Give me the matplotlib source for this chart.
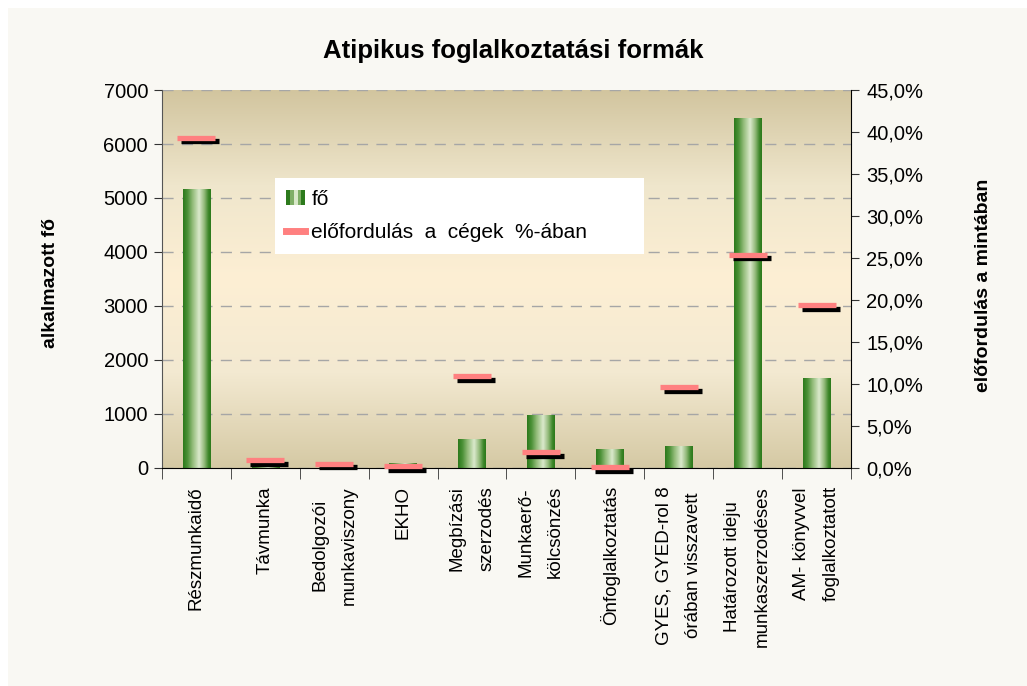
import matplotlib.pyplot as plt
import numpy as np
import matplotlib.transforms as mtransforms
from matplotlib.colors import LinearSegmentedColormap
from matplotlib.patches import Rectangle
from matplotlib.lines import Line2D
from matplotlib.legend_handler import HandlerTuple

plt.rcParams['font.family'] = ['Liberation Sans', 'DejaVu Sans']

# data
categories = ["Részmunkaidő", "Távmunka", "Bedolgozói\nmunkaviszony", "EKHO",
              "Megbízási\nszerzodés", "Munkaerő-\nkölcsönzés", "Önfoglalkoztatás",
              "GYES, GYED-rol 8\nórában visszavett", "Határozott ideju\nmunkaszerzodéses",
              "AM- könyvvel\nfoglalkoztatott"]
fo = [5150, 20, 15, 90, 520, 970, 340, 390, 6480, 1650]
elofordulas = [39.3, 0.9, 0.5, 0.2, 10.9, 1.9, 0.1, 9.6, 25.4, 19.4]

fig = plt.figure(figsize=(10.27, 6.86), dpi=100, facecolor='white')
fig.add_artist(Rectangle((8 / 1027, 0), 1, 1 - 8 / 686, transform=fig.transFigure,
                         facecolor='#f9f8f3', edgecolor='none', zorder=-10))

ax = fig.add_axes([0.1577, 0.3178, 0.6709, 0.551])
ax.set_facecolor('none')

# plot area gradient
bg_cmap = LinearSegmentedColormap.from_list('bg', ['#d2c59f', '#efe6cc', '#fdefd4', '#f3e9d1', '#d5c9a4'])
ax.imshow(np.linspace(0, 1, 256)[:, None], cmap=bg_cmap, extent=[0, 1, 0, 1],
          transform=ax.transAxes, aspect='auto', zorder=0)

# cylinder-like green bars
bar_cmap = LinearSegmentedColormap.from_list('bar', [
    (0.0, '#2c7a1c'), (0.15, '#4a9036'), (0.35, '#95bd7c'), (0.58, '#dbe9cc'),
    (0.78, '#8db674'), (0.92, '#3c8629'), (1.0, '#2c7a1c')])
x = np.arange(len(categories))
bars = ax.bar(x, fo, width=0.4, color='none', zorder=2)
for b in bars:
    ax.imshow(np.linspace(0, 1, 64)[None, :], cmap=bar_cmap,
              extent=[b.get_x(), b.get_x() + b.get_width(), 0, b.get_height()],
              aspect='auto', zorder=2, interpolation='bilinear')

ax.set_xlim(-0.5, len(categories) - 0.5)
ax.set_ylim(0, 7000)
ax.set_yticks(range(0, 7001, 1000))
ax.yaxis.grid(True, linestyle=(0, (8, 6)), color='#a6a6a6', lw=1)
ax.set_axisbelow(True)

ax.set_xticks(x)
ax.set_xticklabels(categories, rotation=90, ha='center', va='top',
                   multialignment='center', linespacing=1.95, fontsize=13.5)
ax.set_xticks(np.arange(-0.5, len(categories), 1), minor=True)
ax.tick_params(axis='x', which='major', length=0, pad=13)
ax.tick_params(axis='x', which='minor', length=8, color='#333333', direction='out')
ax.tick_params(axis='y', length=6, color='#333333', labelsize=14.5, pad=4)

for s in ['top', 'right']:
    ax.spines[s].set_visible(False)
ax.spines['left'].set_color('#555555')
ax.spines['bottom'].set_color('black')

ax.set_ylabel('alkalmazott fő', fontsize=14, fontweight='bold')
ax.yaxis.set_label_coords(-0.15, 0.49)

# secondary axis: share of companies
ax2 = ax.twinx()
ax2.set_ylim(0, 45)
ax2.set_yticks(range(0, 46, 5))
ax2.set_yticklabels([f"{v:.1f}%".replace('.', ',') for v in range(0, 46, 5)])
ax2.tick_params(axis='y', length=6, color='#333333', labelsize=14.5, pad=5)
for s in ['top', 'left', 'bottom']:
    ax2.spines[s].set_visible(False)
ax2.spines['right'].set_color('black')
ax2.set_ylabel('előfordulás a mintában', fontsize=14, fontweight='bold', rotation=90)
ax2.yaxis.set_label_coords(1.18, 0.483)

shadow = mtransforms.offset_copy(ax2.transData, fig=fig, x=4, y=-3.5, units='dots')
ax2.plot(x, elofordulas, ls='none', marker='_', ms=27.5, mew=3.8, color='black',
         transform=shadow, clip_on=False, zorder=3)
ax2.plot(x, elofordulas, ls='none', marker='_', ms=27.5, mew=3.8, color='#ff8080',
         clip_on=False, zorder=4)

# legend
stripes = tuple(Rectangle((0, 0), 1, 1, facecolor=c, edgecolor='none')
                for c in ['#2c7a1c', '#7fae66', '#d8e8c8', '#7fae66', '#2c7a1c'])
line = Line2D([], [], color='#ff8080', lw=5)
leg = ax2.legend([stripes, line], ['fő', 'előfordulás  a  cégek  %-ában'],
                 handler_map={tuple: HandlerTuple(ndivide=None, pad=0)},
                 loc='upper left', bbox_to_anchor=(0.164, 0.561, 0.5355, 0.206),
                 mode='expand', borderaxespad=0, fontsize=15, handlelength=0.9,
                 handleheight=0.7, handletextpad=0.3, labelspacing=0.7, borderpad=0.55,
                 frameon=True, fancybox=False, framealpha=1, facecolor='white',
                 edgecolor='none')
leg.set_zorder(10)

fig.text(0.4995, 0.925, 'Atipikus foglalkoztatási formák', ha='center', va='center',
         fontsize=18.5, fontweight='bold')

fig.savefig('out.png', dpi=100, facecolor=fig.get_facecolor())
